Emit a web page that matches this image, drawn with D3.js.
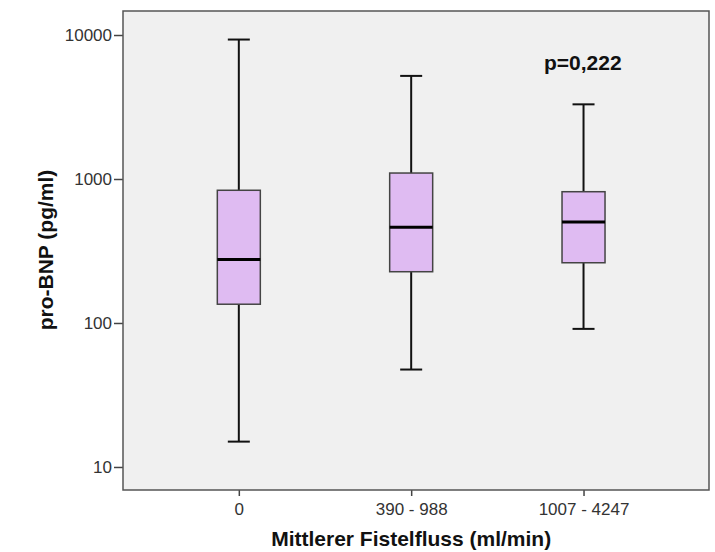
<!DOCTYPE html>
<html lang="de">
<head>
    <meta charset="UTF-8">
    <title>pro-BNP nach Fistelfluss</title>
    <style>
        body {
            margin: 0;
            background: #fff;
            font-family: 'Liberation Sans', Arial, sans-serif;
        }
        svg { display: block; }
        .tick text { fill: #333; }
    </style>
    <script src="https://d3js.org/d3.v7.min.js"></script>
</head>
<body>
    <svg id="chart" width="715" height="552"></svg>
    <script>
        // Gruppen und Kennwerte
        const groups = ["0", "390 - 988", "1007 - 4247"];
        const whiskerLow = [15, 47.5, 91];
        const q1 = [135, 227, 262];
        const median = [276, 462, 503];
        const q3 = [835, 1100, 816];
        const whiskerHigh = [9300, 5200, 3300];
        const yTicks = [10, 100, 1000, 10000];
        const pText = "p=0,222";

        const svg = d3.select("#chart");
        const width = +svg.attr("width");
        const height = +svg.attr("height");
        const margin = { top: 11, right: 6, bottom: 62, left: 123 };
        const plotW = width - margin.left - margin.right;
        const plotH = height - margin.top - margin.bottom;

        const x = d3.scalePoint()
            .domain(groups)
            .range([margin.left, margin.left + plotW])
            .padding(0.7)
            .align(0.48);

        const y = d3.scaleLog()
            .domain([6.92, 14680])
            .range([margin.top + plotH, margin.top]);

        // Hintergrund
        svg.append("rect")
            .attr("x", margin.left)
            .attr("y", margin.top)
            .attr("width", plotW)
            .attr("height", plotH)
            .attr("fill", "#f0f0f0");

        // Achsen
        const yAxis = svg.append("g")
            .attr("transform", `translate(${margin.left},0)`)
            .call(d3.axisLeft(y).tickValues(yTicks).tickFormat(d3.format("d")).tickSize(9).tickPadding(2));
        yAxis.select(".domain").remove();
        yAxis.selectAll("line").attr("stroke", "#444").attr("stroke-width", 1.5);
        yAxis.selectAll("text").attr("font-size", "17px").attr("font-family", "'Liberation Sans', Arial, sans-serif");

        const xAxis = svg.append("g")
            .attr("transform", `translate(0,${margin.top + plotH})`)
            .call(d3.axisBottom(x).tickSize(6).tickPadding(7));
        xAxis.select(".domain").remove();
        xAxis.selectAll("line").attr("stroke", "#444").attr("stroke-width", 1.5);
        xAxis.selectAll("text").attr("font-size", "17px").attr("font-family", "'Liberation Sans', Arial, sans-serif");

        // Rahmen
        svg.append("rect")
            .attr("x", margin.left)
            .attr("y", margin.top)
            .attr("width", plotW)
            .attr("height", plotH)
            .attr("fill", "none")
            .attr("stroke", "#555")
            .attr("stroke-width", 1.5);

        const boxW = 43;
        const capW = 22;

        groups.forEach(function (g, i) {
            const cx = x(g);

            // Whisker
            svg.append("line")
                .attr("x1", cx).attr("x2", cx)
                .attr("y1", y(whiskerHigh[i])).attr("y2", y(q3[i]))
                .attr("stroke", "#111").attr("stroke-width", 2);
            svg.append("line")
                .attr("x1", cx).attr("x2", cx)
                .attr("y1", y(q1[i])).attr("y2", y(whiskerLow[i]))
                .attr("stroke", "#111").attr("stroke-width", 2);
            [whiskerHigh[i], whiskerLow[i]].forEach(function (v) {
                svg.append("line")
                    .attr("x1", cx - capW / 2).attr("x2", cx + capW / 2)
                    .attr("y1", y(v)).attr("y2", y(v))
                    .attr("stroke", "#111").attr("stroke-width", 2);
            });

            // Box
            svg.append("rect")
                .attr("x", cx - boxW / 2)
                .attr("y", y(q3[i]))
                .attr("width", boxW)
                .attr("height", y(q1[i]) - y(q3[i]))
                .attr("fill", "#dfbbf2")
                .attr("stroke", "#444")
                .attr("stroke-width", 1.5);

            // Median
            svg.append("line")
                .attr("x1", cx - boxW / 2).attr("x2", cx + boxW / 2)
                .attr("y1", y(median[i])).attr("y2", y(median[i]))
                .attr("stroke", "#000").attr("stroke-width", 3);
        });

        // p-Wert
        svg.append("text")
            .attr("x", 544)
            .attr("y", 70)
            .attr("font-size", "21px")
            .attr("font-weight", "bold")
            .attr("fill", "#111")
            .text(pText);

        // Achsentitel
        const midX = (x(groups[0]) + x(groups[groups.length - 1])) / 2;
        svg.append("text")
            .attr("x", midX)
            .attr("y", 546)
            .attr("text-anchor", "middle")
            .attr("font-size", "21px")
            .attr("font-weight", "bold")
            .attr("fill", "#111")
            .text("Mittlerer Fistelfluss (ml/min)");

        svg.append("text")
            .attr("transform", "translate(53,250) rotate(-90)")
            .attr("text-anchor", "middle")
            .attr("font-size", "21px")
            .attr("font-weight", "bold")
            .attr("fill", "#111")
            .text("pro-BNP (pg/ml)");
    </script>
</body>
</html>
